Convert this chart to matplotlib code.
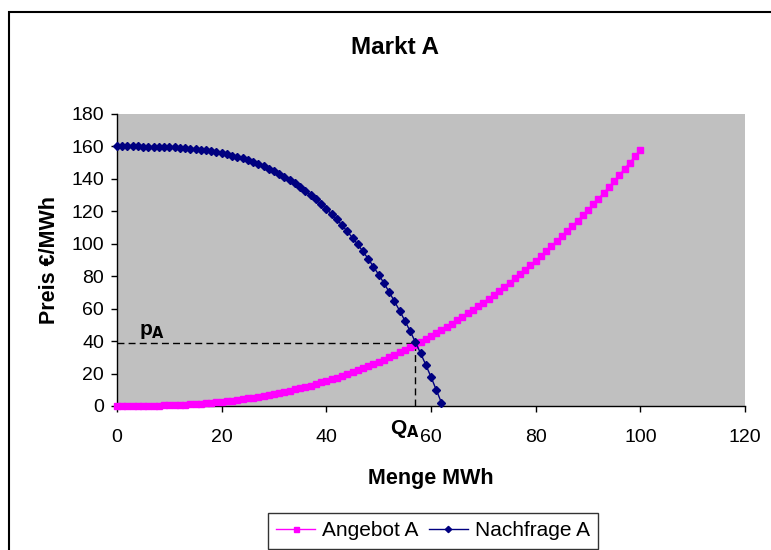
import matplotlib
matplotlib.use("Agg")
import matplotlib.pyplot as plt
from matplotlib.patches import Rectangle

plt.rcParams["font.family"] = ["Liberation Sans", "DejaVu Sans"]

# Angebot A (supply): quantity MWh -> price EUR/MWh
supply_q = list(range(0, 101))
supply_p = [
    0.0, 0.0, 0.0, 0.02, 0.04, 0.08, 0.12, 0.18, 0.26, 0.35,
    0.46, 0.58, 0.72, 0.89, 1.07, 1.28, 1.50, 1.75, 2.03, 2.32,
    2.65, 3.00, 3.38, 3.78, 4.21, 4.67, 5.16, 5.68, 6.23, 6.81,
    7.42, 8.07, 8.75, 9.45, 10.2, 11.0, 11.8, 12.6, 13.5, 14.5,
    15.4, 16.4, 17.5, 18.5, 19.6, 20.8, 22.0, 23.2, 24.5, 25.8,
    27.2, 28.6, 30.0, 31.5, 33.0, 34.6, 36.2, 37.9, 39.6, 41.4,
    43.2, 45.0, 46.9, 48.9, 50.8, 52.9, 55.0, 57.2, 59.3, 61.5,
    63.8, 66.2, 68.6, 71.1, 73.5, 76.1, 78.7, 81.3, 84.1, 86.8,
    89.6, 92.5, 95.5, 98.5, 101.5, 104.5, 107.7, 110.9, 114.2, 117.5,
    120.9, 124.3, 127.8, 131.4, 135.0, 138.7, 142.4, 146.3, 150.1, 153.9,
    158.0,
]

# Nachfrage A (demand)
demand_q = list(range(0, 63))
demand_p = [
    160.0, 160.0, 160.0, 160.0, 160.0, 159.95, 159.9, 159.86, 159.8, 159.7,
    159.56, 159.4, 159.2, 158.97, 158.7, 158.4, 158.0, 157.6, 157.1, 156.5,
    155.9, 155.2, 154.4, 153.5, 152.6, 151.5, 150.4, 149.1, 147.8, 146.3,
    144.8, 143.0, 141.2, 139.3, 137.2, 134.9, 132.6, 130.0, 127.4, 124.5,
    121.5, 118.3, 115.0, 111.4, 107.6, 103.7, 99.6, 95.3, 90.7, 85.9,
    81.0, 75.8, 70.3, 64.6, 58.8, 52.6, 46.2, 39.5, 32.6, 25.4,
    17.9, 10.0, 2.0,
]

# equilibrium
q_eq = 57.0
p_eq = 38.7

x_ticks = [0, 20, 40, 60, 80, 100, 120]
y_ticks = [0, 20, 40, 60, 80, 100, 120, 140, 160, 180]

fig = plt.figure(figsize=(7.71, 5.5), dpi=100)
ax = fig.add_axes([117 / 771, 144 / 550, 628 / 771, 292 / 550])
ax.set_facecolor("#C0C0C0")

ax.plot(supply_q, supply_p, color="#FF00FF", marker="s", markersize=4.5,
        linewidth=1, label="Angebot A", clip_on=False, zorder=3)
ax.plot(demand_q, demand_p, color="#000080", marker="D", markersize=4,
        linewidth=1, label="Nachfrage A", clip_on=False, zorder=4)

# dashed guide lines at the equilibrium
ax.plot([0, q_eq], [p_eq, p_eq], color="black", linestyle=(0, (5, 3)), linewidth=1, zorder=2)
ax.plot([q_eq, q_eq], [0, p_eq], color="black", linestyle=(0, (5, 3)), linewidth=1, zorder=2)

ax.text(4.2, 44, "p$_\\mathbf{A}$", fontsize=15, fontweight="bold")
ax.text(52.2, -17, "Q$_\\mathbf{A}$", fontsize=15, fontweight="bold", clip_on=False)

ax.set_xlim(0, 120)
ax.set_ylim(0, 180)
ax.set_xticks(x_ticks)
ax.set_yticks(y_ticks)
ax.tick_params(labelsize=14, length=4.3, width=1)
ax.tick_params(axis="x", pad=12)
ax.tick_params(axis="y", pad=5)
for s in ["top", "right"]:
    ax.spines[s].set_visible(False)
for s in ["left", "bottom"]:
    ax.spines[s].set_linewidth(1)

ax.set_xlabel("Menge MWh", fontsize=15.5, fontweight="bold", labelpad=16)
ax.set_ylabel("Preis €/MWh", fontsize=15.5, fontweight="bold", labelpad=8)
fig.text(395 / 771, 1 - 47 / 550, "Markt A", fontsize=17.5, fontweight="bold",
         ha="center", va="center")

leg = fig.legend(loc="upper left", bbox_to_anchor=(268 / 771, 37 / 550), ncol=2,
                 fontsize=15, frameon=True, fancybox=False, handlelength=1.85,
                 columnspacing=0.5, handletextpad=0.35, borderpad=0.4,
                 markerscale=0.8, borderaxespad=0)
leg.get_frame().set_edgecolor("black")
leg.get_frame().set_linewidth(1)

# chart area border
fig.patches.append(Rectangle((9 / 771, -0.2), 1.2, 0.2 + 538 / 550,
                             transform=fig.transFigure, fill=False,
                             edgecolor="black", linewidth=1.5))

fig.savefig("out.png", dpi=100)
